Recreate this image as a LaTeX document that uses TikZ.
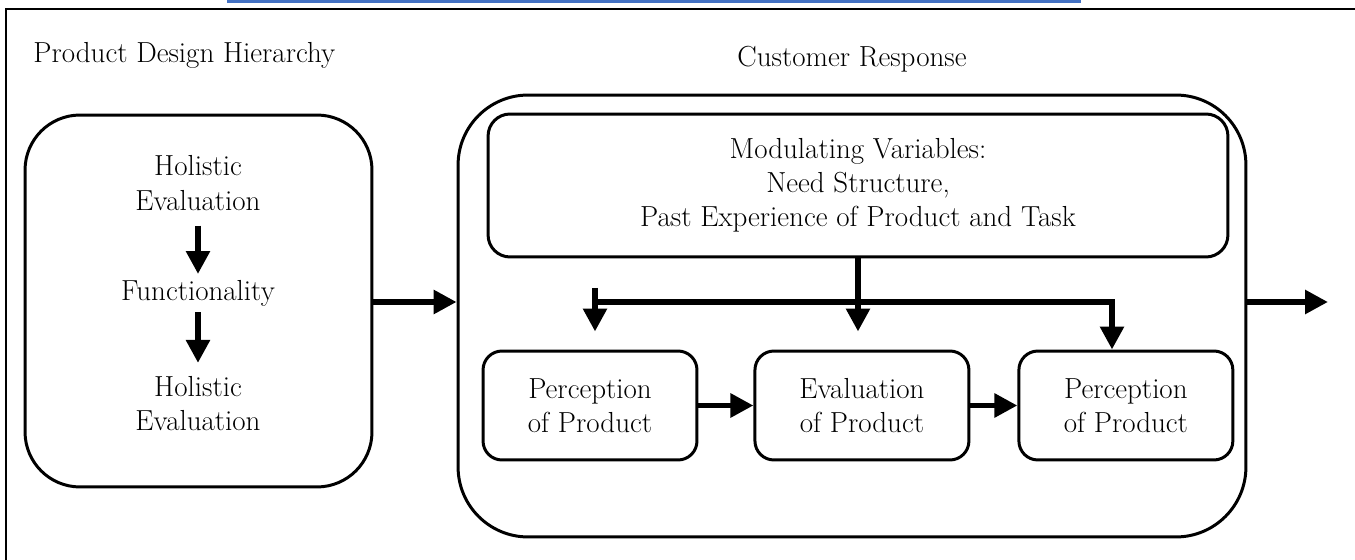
\documentclass[tikz,border=0pt]{standalone}
\usepackage{fontspec}
\usepackage{tikz}
\usetikzlibrary{arrows.meta, positioning, calc}
\definecolor{barblue}{HTML}{4472C4}

\begin{document}
\begin{tikzpicture}[
        x=0.02cm, y=-0.02cm,
        font=\fontsize{16.5pt}{19.5pt}\selectfont,
        frame/.style={line width=1.5pt},
        outerbox/.style={rectangle, draw, line width=1.7pt},
        box/.style={rectangle, draw, line width=1.7pt, rounded corners=0.44cm, align=center, minimum width=14.8cm, minimum height=2.86cm},
        smallbox/.style={rectangle, draw, line width=1.7pt, rounded corners=0.38cm, align=center, minimum width=4.28cm, minimum height=2.18cm},
        txt/.style={align=center},
        arrow/.style={line width=3.4pt, -{Triangle[length=0.46cm, width=0.46cm]}}
    ]
        \useasboundingbox (0,0) rectangle (1355,560);

        % Frame
        \fill[barblue] (227,0) rectangle (1081,3);
        \draw[frame] (6,575) -- (6,9) -- (1370,9);

        % Product design hierarchy
        \node[anchor=base west, inner sep=0] (ptitle) at (33,63) {Product Design Hierarchy};
        \node[outerbox, rounded corners=1.1cm, minimum width=6.94cm, minimum height=7.44cm] (hier) at (198.5,301) {};
        \node[txt] (he1) at (198,183) {Holistic\\Evaluation};
        \node[txt, below=1.15cm of he1] (func) {Functionality};
        \node[txt, below=1.15cm of func] (he2) {Holistic\\Evaluation};

        % Customer response
        \node[anchor=base, inner sep=0] (ctitle) at (852,67) {Customer Response};
        \node[outerbox, rounded corners=1.4cm, minimum width=15.76cm, minimum height=8.84cm] (cust) at (852,316) {};
        \node[box] (modvar) at (858,185.5) {Modulating Variables:\\Need Structure,\\Past Experience of Product and Task};

        \node[smallbox] (perc1) at (590,405.5) {Perception\\of Product};
        \node[smallbox, right=1.1cm of perc1] (eval) {Evaluation\\of Product};
        \node[smallbox, right=0.94cm of eval] (perc2) {Perception\\of Product};

        \coordinate (busl) at (595,288);
        \coordinate (busr) at (1112,302);
        \coordinate (out) at (1328,302);

        % Arrows
        \draw[arrow, shorten <=0.18cm] (he1) -- (func);
        \draw[arrow, shorten >=0.14cm] (func) -- (he2);
        \draw[arrow] (hier.east |- out) -- (cust.west |- out);
        \draw[arrow] (cust.east |- out) -- (out);
        \draw[arrow, shorten >=0.36cm] (modvar.south) -- (modvar.south |- eval.north);
        \draw[arrow, shorten >=0.36cm] (busl) -- (busl |- perc1.north);
        \draw[arrow] (busl |- busr) -- (busr) -- (busr |- perc2.north);
        \draw[arrow] (perc1) -- (eval);
        \draw[arrow] (eval) -- (perc2);
    \end{tikzpicture}
\end{document}
